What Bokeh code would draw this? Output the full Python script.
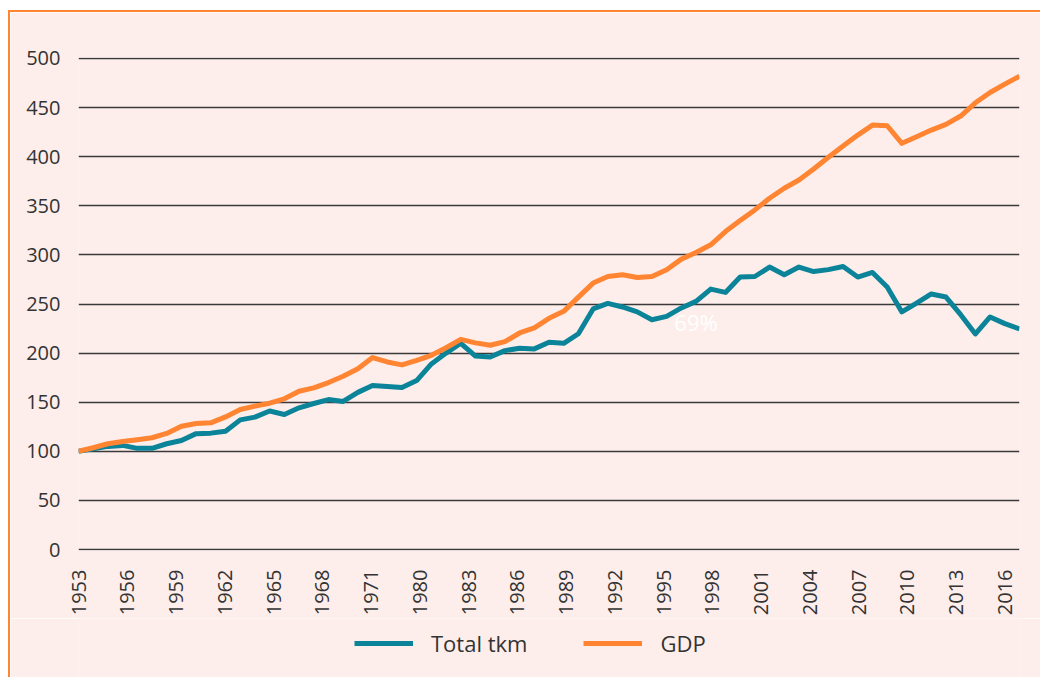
import numpy as np
from bokeh.plotting import figure
from bokeh.layouts import column
from bokeh.models import Range1d, LinearAxis, FixedTicker, Legend, LegendItem, Label
from bokeh.embed import file_html
from bokeh.resources import INLINE

# ---------------- data (index, 1953 = 100) ----------------
years = list(range(1953, 2018))
total_tkm = [100, 102.5, 105, 106, 103, 103, 107.7, 111, 118, 118.5,
             120.5, 132, 134.8, 141, 137.5, 144.3, 148.7, 152.7, 150.8, 160,
             167, 166, 165, 172, 189, 200, 210, 197, 196, 202.5,
             205, 204.3, 211, 210, 219.7, 245, 250.6, 247, 242, 234,
             237.4, 246, 252.7, 265.2, 261.8, 277.4, 278, 287.6, 279.8, 287.6,
             283, 285, 288.2, 277.4, 282.1, 267.3, 241.9, 251, 260.2, 257.1,
             239.1, 219.5, 236.8, 230, 224.6]
gdp = [100, 103.6, 107.7, 110, 111.8, 113.8, 118.2, 125.6, 128.3, 129,
       135, 142.6, 146, 149, 153.5, 161.2, 164.6, 170, 176.4, 184,
       195.5, 191, 188, 192.7, 197.8, 205.5, 214, 210.4, 208, 211.7,
       220.5, 225.6, 235.4, 242.5, 257, 271.3, 278, 279.8, 277, 278,
       284.9, 295.7, 302.4, 310.3, 323.8, 335, 345.8, 357.7, 367.9, 376.3,
       387.5, 399.5, 410.9, 422, 432.2, 431.5, 413.6, 420.3, 427.1, 432.9,
       441.4, 454.9, 465.4, 473.9, 482]
series_names = ["Total tkm", "GDP"]
tick_labels = ["1953", "1956", "1959", "1962", "1965", "1968", "1971",
               "1980", "1983", "1986", "1989", "1992", "1995", "1998",
               "2001", "2004", "2007", "2010", "2013", "2016"]
y_ticks = list(range(0, 501, 50))
note_text = "69%"

# ---------------- style ----------------
TEAL = "#0b8499"
ORANGE = "#ff8533"
BG = "#fdeeeb"
TXT = "#333333"
GRID = "#3a3a3a"
FONT = "Open Sans"
COLORS = [TEAL, ORANGE]

p = figure(width=1030, height=606, output_backend="svg", toolbar_location=None,
           x_range=Range1d(years[0], years[-1]),
           y_range=Range1d(y_ticks[0] - 1, y_ticks[-1] + 1),
           x_axis_location=None, y_axis_location="left",
           min_border_left=68, min_border_right=21, min_border_top=45,
           min_border_bottom=67,
           background_fill_color=BG, border_fill_color=BG, outline_line_color=None)

# y axis
p.yaxis.ticker = FixedTicker(ticks=y_ticks)
p.yaxis.axis_line_color = None
p.yaxis.major_tick_line_color = None
p.yaxis.minor_tick_line_color = None
p.yaxis.major_label_standoff = 12
p.yaxis.major_label_text_font = FONT
p.yaxis.major_label_text_font_size = "20px"
p.yaxis.major_label_text_color = TXT

# grid
p.xgrid.visible = False
p.ygrid.ticker = FixedTicker(ticks=y_ticks)
p.ygrid.grid_line_color = GRID
p.ygrid.grid_line_width = 1.3

# label axis: evenly spaced category labels between first and last label year
first = int(tick_labels[0])
last = int(tick_labels[-1])
step = (last - first) / (len(tick_labels) - 1)
p.extra_x_ranges = {"lab": Range1d((years[0] - first) / step, (years[-1] - first) / step)}
xaxis = LinearAxis(x_range_name="lab",
                   ticker=FixedTicker(ticks=list(range(len(tick_labels)))),
                   major_label_overrides={i: t for i, t in enumerate(tick_labels)},
                   major_label_orientation=np.pi / 2,
                   axis_line_color=None, major_tick_line_color=None,
                   minor_tick_line_color=None, major_label_standoff=13,
                   major_label_text_font=FONT, major_label_text_font_size="20px",
                   major_label_text_color=TXT)
p.add_layout(xaxis, "below")

# lines
p.line(years, total_tkm, line_color=COLORS[0], line_width=5, line_join="round")
p.line(years, gdp, line_color=COLORS[1], line_width=5, line_join="round")

p.add_layout(Label(x=1995, y=232, text=note_text, text_align="center",
                   text_baseline="middle", text_color="white",
                   text_font=FONT, text_font_size="22px"))

# legend strip below the chart (legend keys drawn from off-range proxy lines)
p2 = figure(width=1030, height=59, output_backend="svg", toolbar_location=None,
            x_range=Range1d(0, 1), y_range=Range1d(0, 1),
            x_axis_location=None, y_axis_location=None, min_border=0,
            background_fill_color=BG, border_fill_color=BG, outline_line_color=None)
p2.grid.visible = False
items = []
for name, col in zip(series_names, COLORS):
    r = p2.line([5, 6], [5, 6], line_color=col, line_width=5)
    items.append(LegendItem(label=name, renderers=[r]))
legend = Legend(items=items, orientation="horizontal", location=(272, 15),
                glyph_width=59, glyph_height=20, label_standoff=18, spacing=56,
                label_text_font=FONT, label_text_font_size="22px",
                label_text_color=TXT, background_fill_alpha=0, border_line_alpha=0,
                padding=4, margin=0)
p2.add_layout(legend, "center")

layout = column(p, p2, spacing=0,
                styles={"border-top": f"2px solid {ORANGE}",
                        "border-left": f"2px solid {ORANGE}",
                        "margin-top": "10px", "margin-left": "8px"})

open("out.html", "w").write(file_html(layout, INLINE))
